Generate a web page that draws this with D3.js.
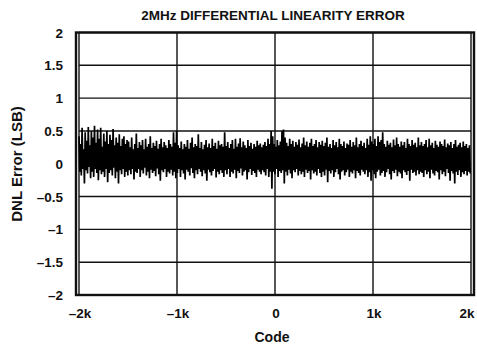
<!DOCTYPE html>
<html>
<head>
<meta charset="utf-8">
<script src="https://cdn.jsdelivr.net/npm/d3@7"></script>
<style>
  body { margin: 0; background: #fff; }
  text { font-family: "Liberation Sans", Arial, sans-serif; font-weight: bold; fill: #111; }
</style>
</head>
<body>
<div id="chart"></div>
<script>
/* 2MHz DNL plot, redrawn from a datasheet scan */

const xTicks = [-2048, -1024, 0, 1024, 2048];
const xTickLabels = ["\u20132k", "\u20131k", "0", "1k", "2k"];
const yTicks = [2, 1.5, 1, 0.5, 0, -0.5, -1, -1.5, -2];
const yTickLabels = ["2", "1.5", "1", "0.5", "0", "\u20130.5", "\u20131", "\u20131.5", "\u20132"];

// DNL (LSB) left to right, one value every ~8 codes
const dnl = [
  0.42,-0.12,0.30,-0.18,0.55,-0.08,0.22,-0.30,0.48,-0.10,0.35,-0.15,0.56,-0.05,0.28,-0.22,0.50,-0.12,0.40,-0.20,0.58,-0.08,0.32,-0.14,0.52,-0.25,0.38,-0.10,0.55,-0.16,0.26,-0.12,0.46,-0.20,0.34,-0.08,0.50,-0.28,0.30,-0.14,0.44,-0.10,0.36,-0.18,0.53,-0.06,0.28,-0.22,0.40,-0.12,0.32,-0.30,0.45,-0.10,0.27,-0.16,0.38,-0.08,0.42,-0.20,0.30,-0.12,0.36,-0.18,
  0.34,-0.10,0.25,-0.16,0.40,-0.08,0.22,-0.24,0.30,-0.12,0.46,-0.14,0.24,-0.08,0.33,-0.20,0.28,-0.10,0.36,-0.15,0.22,-0.06,0.38,-0.18,0.26,-0.12,0.30,-0.22,0.42,-0.09,0.24,-0.14,0.32,-0.11,0.27,-0.19,0.35,-0.07,0.23,-0.16,0.30,-0.26,0.38,-0.10,0.25,-0.13,0.33,-0.08,0.28,-0.20,0.24,-0.12,0.36,-0.15,0.30,-0.09,0.26,-0.18,0.48,-0.12,0.32,-0.22,
  0.50,-0.14,0.28,-0.08,0.24,-0.20,0.34,-0.10,0.22,-0.15,0.30,-0.24,0.26,-0.09,0.36,-0.12,0.23,-0.18,0.32,-0.07,0.40,-0.14,0.25,-0.22,0.30,-0.10,0.27,-0.16,0.45,-0.08,0.24,-0.12,0.33,-0.19,0.22,-0.10,0.29,-0.15,0.36,-0.26,0.25,-0.09,0.31,-0.13,0.24,-0.18,0.38,-0.11,0.27,-0.08,0.32,-0.21,0.23,-0.12,0.35,-0.16,0.28,-0.10,0.30,-0.14,0.26,-0.20,
  0.48,-0.10,0.27,-0.16,0.33,-0.08,0.24,-0.20,0.30,-0.12,0.36,-0.15,0.23,-0.09,0.38,-0.22,0.26,-0.11,0.31,-0.14,0.39,-0.07,0.25,-0.18,0.34,-0.12,0.28,-0.10,0.24,-0.24,0.36,-0.13,0.27,-0.08,0.32,-0.17,0.23,-0.11,0.30,-0.14,0.26,-0.20,0.35,-0.09,0.28,-0.12,0.31,-0.16,0.25,-0.10,0.29,-0.13,0.33,-0.18,0.27,-0.08,0.38,-0.20,0.30,-0.12,0.50,-0.38,
  0.42,-0.12,0.30,-0.16,0.26,-0.08,0.36,-0.20,0.28,-0.11,0.34,-0.14,0.50,-0.10,0.52,-0.30,0.40,-0.12,0.32,-0.18,0.27,-0.09,0.38,-0.15,0.30,-0.22,0.35,-0.10,0.26,-0.13,0.33,-0.08,0.29,-0.18,0.37,-0.11,0.25,-0.16,0.31,-0.12,0.40,-0.20,0.28,-0.09,0.34,-0.14,0.26,-0.11,0.32,-0.24,0.38,-0.10,0.27,-0.15,0.30,-0.12,0.36,-0.18,0.25,-0.08,0.33,-0.14,0.29,-0.20,
  0.35,-0.12,0.27,-0.18,0.32,-0.09,0.40,-0.28,0.26,-0.11,0.30,-0.15,0.24,-0.10,0.36,-0.20,0.28,-0.13,0.33,-0.08,0.25,-0.16,0.38,-0.24,0.30,-0.12,0.27,-0.10,0.34,-0.18,0.24,-0.13,0.31,-0.09,0.29,-0.20,0.36,-0.12,0.26,-0.15,0.33,-0.10,0.28,-0.22,0.40,-0.11,0.25,-0.14,0.30,-0.18,0.35,-0.09,0.27,-0.12,0.32,-0.16,0.24,-0.10,0.38,-0.20,0.29,-0.13,0.42,-0.26,
  0.34,-0.10,0.30,-0.16,0.38,-0.22,0.27,-0.12,0.42,-0.09,0.33,-0.18,0.36,-0.14,0.48,-0.11,0.30,-0.20,0.26,-0.13,0.35,-0.08,0.29,-0.16,0.32,-0.24,0.25,-0.11,0.37,-0.14,0.28,-0.09,0.40,-0.19,0.30,-0.12,0.26,-0.15,0.34,-0.22,0.28,-0.10,0.33,-0.13,0.24,-0.17,0.38,-0.11,0.30,-0.26,0.27,-0.09,0.36,-0.14,0.29,-0.12,0.32,-0.18,0.25,-0.10,0.40,-0.16,0.28,-0.12,
  0.33,-0.14,0.27,-0.20,0.30,-0.10,0.36,-0.16,0.25,-0.12,0.38,-0.22,0.28,-0.09,0.32,-0.15,0.24,-0.18,0.35,-0.11,0.29,-0.13,0.26,-0.24,0.34,-0.10,0.30,-0.16,0.27,-0.12,0.37,-0.19,0.25,-0.08,0.31,-0.14,0.28,-0.26,0.33,-0.11,0.24,-0.15,0.30,-0.30,0.36,-0.12,0.26,-0.17,0.29,-0.10,0.32,-0.20,0.25,-0.13,0.34,-0.16,0.27,-0.11,0.30,-0.18,0.24,-0.12,0.28,-0.15
];

const width = 477, height = 346,
  margin = ({ top: 32.5, right: 6, bottom: 51, left: 79 });

let svg = d3.select("#chart")
  .append("svg")
  .attr("width", width)
  .attr("height", height)
  .attr("viewBox", [0, 0, width, height]);

/* code axis: one sample every 4096/n codes */
let x = d3.scaleLinear()
  .domain([-2048, 2048])
  .range([margin.left, width - margin.right]);

let y = d3.scaleLinear()
  .domain([-2, 2])
  .range([height - margin.bottom, margin.top]);

let step = 4096 / dnl.length;

/* grid */
svg.append("g")
  .selectAll("line")
  .data(xTicks)
  .join("line")
  .attr("x1", d => x(d)).attr("x2", d => x(d))
  .attr("y1", y(2)).attr("y2", y(-2))
  .attr("stroke", "#111")
  .attr("stroke-width", 1.4);

svg.append("g")
  .selectAll("line")
  .data(yTicks)
  .join("line")
  .attr("x1", x(-2048)).attr("x2", x(2048))
  .attr("y1", d => y(d)).attr("y2", d => y(d))
  .attr("stroke", "#111")
  .attr("stroke-width", 1.4);

/* outer frame, heavier, a few px outside the plot */
svg.append("rect")
  .attr("x", x(-2048) - 3)
  .attr("y", y(2))
  .attr("width", x(2048) - x(-2048) + 6)
  .attr("height", y(-2) - y(2))
  .attr("fill", "none")
  .attr("stroke", "#111")
  .attr("stroke-width", 2.4);

/* the DNL trace */
let line = d3.line()
  .x((d, i) => x(-2048 + i * step))
  .y(d => y(d));

svg.append("path")
  .datum(dnl)
  .attr("d", line)
  .attr("fill", "none")
  .attr("stroke", "#000")
  .attr("stroke-width", 1.7)
  .attr("stroke-linejoin", "bevel");

/* tick labels */
svg.append("g")
  .selectAll("text")
  .data(yTicks)
  .join("text")
  .attr("x", 63)
  .attr("y", d => y(d) + 5)
  .attr("text-anchor", "end")
  .style("font-size", "13.5px")
  .text((d, i) => yTickLabels[i]);

svg.append("g")
  .selectAll("text")
  .data(xTicks)
  .join("text")
  .attr("x", (d, i) => i == 4 ? x(d) - 4 : x(d) + 1)
  .attr("y", 318)
  .attr("text-anchor", "middle")
  .style("font-size", "13.5px")
  .text((d, i) => xTickLabels[i]);

/* titles */
svg.append("text")
  .attr("x", 273)
  .attr("y", 20)
  .attr("text-anchor", "middle")
  .style("font-size", "13.5px")
  .text("2MHz DIFFERENTIAL LINEARITY ERROR");

svg.append("text")
  .attr("x", 272)
  .attr("y", 342)
  .attr("text-anchor", "middle")
  .style("font-size", "14px")
  .text("Code");

svg.append("text")
  .attr("transform", "translate(22,164) rotate(-90)")
  .attr("text-anchor", "middle")
  .style("font-size", "15px")
  .text("DNL Error (LSB)");
</script>
</body>
</html>
